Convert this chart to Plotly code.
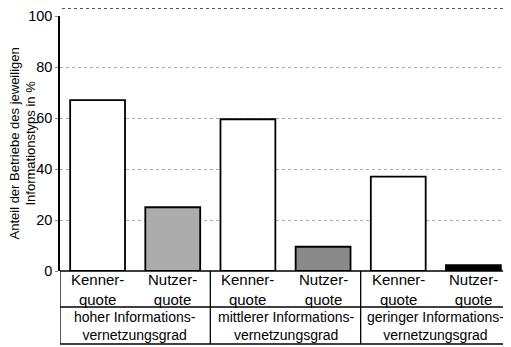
import plotly.graph_objects as go

categories = ["Kenner-<br>quote", "Nutzer-<br>quote", "Kenner-<br>quote", "Nutzer-<br>quote",
              "Kenner-<br>quote", "Nutzer-<br>quote"]
values = [67, 25, 59.5, 9.5, 37, 2.3]
groups = ["hoher Informations-<br>vernetzungsgrad",
          "mittlerer Informations-<br>vernetzungsgrad",
          "geringer Informations-<br>vernetzungsgrad"]
y_ticks = [0, 20, 40, 60, 80, 100]
y_title = "Anteil der Betriebe des jeweiligen<br>Informationstyps in %"

FONT = "Liberation Sans, Arial, Helvetica, sans-serif"

bg = ["white", "#c4c4c4", "white", "#6e6e6e", "white", "black"]
fg = ["white", "#8a8a8a", "white", "#3a3a3a", "white", "black"]
shape = ["", ".", "", ".", "", ""]

fig = go.Figure()
fig.add_trace(go.Bar(
    x=list(range(len(values))), y=values,
    marker=dict(color=bg, line=dict(color="black", width=1.8),
                pattern=dict(shape=shape, fgcolor=fg, bgcolor=bg, size=2, solidity=0.4)),
    width=0.73, showlegend=False, hoverinfo="skip",
))

PH = 255.0  # plot height in px
PW = 451.0  # plot width in px

shapes = []
for yy in [0, -36 / PH, -73 / PH]:
    shapes.append(dict(type="line", xref="paper", yref="paper", x0=0, x1=1, y0=yy, y1=yy,
                       line=dict(color="black", width=1.3)))
for xx in [-0.5, 1.5, 3.5]:
    shapes.append(dict(type="line", xref="x", yref="paper", x0=xx, x1=xx, y0=0, y1=-73 / PH,
                       line=dict(color="black", width=1.3)))
# scan artifact dotted line at the very top
shapes.append(dict(type="line", xref="paper", yref="paper", x0=2 / PW, x1=1, y0=1 + 7.5 / PH,
                   y1=1 + 7.5 / PH, line=dict(color="#555555", width=1, dash="dot")))

annotations = []
for i, c in enumerate(categories):
    annotations.append(dict(x=i, y=-18 / PH, xref="x", yref="paper", text=c, showarrow=False,
                            font=dict(family=FONT, size=15, color="black"), yanchor="middle",
                            align="center"))
for g, name in enumerate(groups):
    annotations.append(dict(x=2 * g + 0.5, y=-55 / PH, xref="x", yref="paper", text=name,
                            showarrow=False, font=dict(family=FONT, size=14, color="black"),
                            yanchor="middle", align="center"))
annotations.append(dict(x=(14 - 52) / PW, y=0.5, xref="paper", yref="paper", text=y_title,
                        showarrow=False, textangle=-90, xanchor="center", yanchor="middle",
                        align="center", font=dict(family=FONT, size=13, color="black")))

fig.update_layout(
    width=511, height=347,
    margin=dict(l=52, r=8, t=8, b=84),
    paper_bgcolor="white", plot_bgcolor="white",
    font=dict(family=FONT, size=15, color="black"),
    xaxis=dict(range=[-0.5, 5.5], showticklabels=False, showgrid=False, zeroline=False,
               showline=False, ticks="", automargin=False),
    yaxis=dict(range=[0, 100], tickvals=y_ticks, ticktext=[str(t) for t in y_ticks],
               showgrid=True, gridcolor="#aaaaaa", griddash="dot", gridwidth=1,
               zeroline=False, showline=True, linecolor="black", linewidth=1.5,
               ticks="outside", ticklen=3, tickcolor="#888888", automargin=False,
               tickfont=dict(family=FONT, size=14.5)),
    shapes=shapes, annotations=annotations,
)

fig.write_html("out.html")
